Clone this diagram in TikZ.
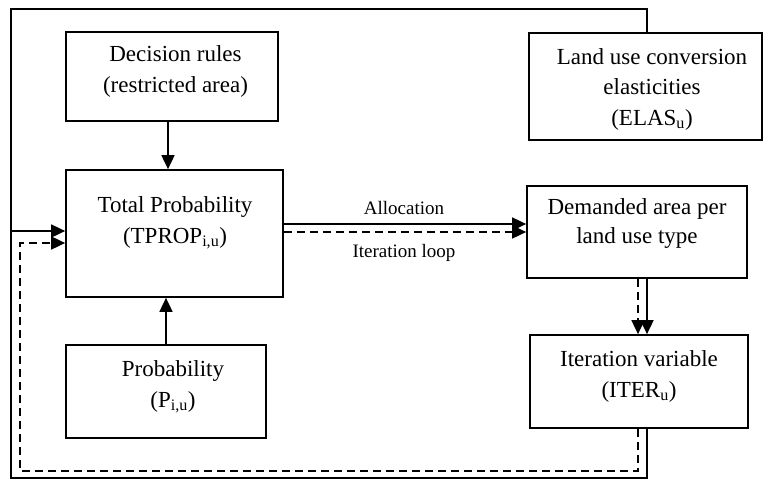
\documentclass[tikz,border=0pt]{standalone}
\usepackage{fontspec}
\setmainfont{Liberation Serif}
\usetikzlibrary{arrows.meta}
\begin{document}
\begin{tikzpicture}[x=1pt,y=-1pt,
  box/.style={draw, line width=1.7pt, inner sep=0pt, fill=white},
  txt/.style={anchor=base, align=center, inner sep=0pt, font=\fontsize{23}{30.5}\selectfont},
  lbl/.style={anchor=base, inner sep=0pt, font=\fontsize{19}{23}\selectfont},
  ln/.style={line width=1.7pt},
  arr/.style={-{Triangle[length=14pt,width=13pt]}},
  dsh/.style={dash pattern=on 8pt off 5pt}]
\useasboundingbox (0,0) rectangle (764,480);

% boxes
\node[box, minimum width=212pt, minimum height=89pt] (dec) at (172,76.5) {};
\node[box, minimum width=217pt, minimum height=127pt] (tprop) at (174.5,233.5) {};
\node[box, minimum width=200pt, minimum height=93pt] (prob) at (166,391.5) {};
\node[box, minimum width=233pt, minimum height=107pt] (elas) at (645.5,86.5) {};
\node[box, minimum width=220pt, minimum height=92pt] (dem) at (637,232) {};
\node[box, minimum width=218pt, minimum height=93pt] (iter) at (639,381.5) {};

% texts (base anchor = baseline of last line)
\node[txt] (decT) at (175.5,92) {Decision rules\\(restricted area)};
\node[txt] (tpropT) at (175,243) {Total Probability\\(TPROP\textsubscript{i,u})};
\node[txt] (probT) at (173,407) {Probability\\(P\textsubscript{i,u})};
\node[txt] (elasT) at (652,125) {Land use conversion\\elasticities\\(ELAS\textsubscript{u})};
\node[txt, font=\fontsize{23}{28.5}\selectfont] (demT) at (637,243) {Demanded area per\\land use type};
\node[txt] (iterT) at (639,397) {Iteration variable\\(ITER\textsubscript{u})};
\node[lbl] (alloc) at (404,214) {Allocation};
\node[lbl] (iterl) at (404,257) {Iteration loop};

% helper coordinates
\coordinate (xa) at (168,0);
\coordinate (xb) at (166,0);
\coordinate (ya) at (0,224);
\coordinate (yb) at (0,232);
\coordinate (xs) at (647,0);
\coordinate (xd) at (638,0);
\coordinate (bl) at (11,478);
\coordinate (tl) at (11,9);
\coordinate (ys) at (0,231);
\coordinate (dl) at (20,471);
\coordinate (yd) at (0,243);

% connectors
\draw[ln,arr] (dec.south -| xa) -- (tprop.north -| xa);
\draw[ln,arr] (prob.north -| xb) -- (tprop.south -| xb);
\draw[ln,arr] (tprop.east |- ya) -- (dem.west |- ya);
\draw[ln,arr,dsh] (tprop.east |- yb) -- (dem.west |- yb);
\draw[ln,arr] (dem.south -| xs) -- (iter.north -| xs);
\draw[ln,arr,dsh] (dem.south -| xd) -- (iter.north -| xd);
\draw[ln] (iter.south -| xs) |- (bl) -- (tl) -| (elas.north -| xs);
\draw[ln,arr] (bl |- ys) -- (tprop.west |- ys);
\draw[ln,arr,dsh] (iter.south -| xd) |- (dl) |- (tprop.west |- yd);
\end{tikzpicture}
\end{document}
